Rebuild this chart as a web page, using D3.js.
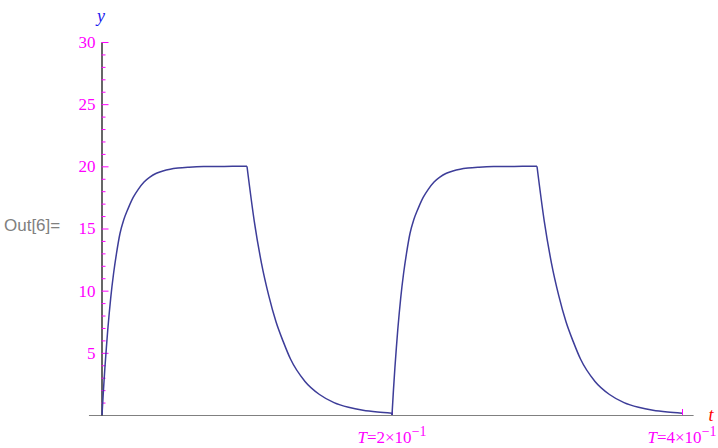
<!DOCTYPE html>
<html>
<head>
<meta charset="utf-8">
<script src="https://cdn.jsdelivr.net/npm/d3@7"></script>
<style>
  body { margin: 0; background: #fff; }
  svg { display: block; }
  .serif { font-family: "Liberation Serif", "Times New Roman", Times, "DejaVu Serif", serif; }
</style>
</head>
<body>
<div id="chart"></div>
<script>
// one period of the signal (t in s, y value)
var periodStarts = [0, 0.2];
var riseT = [0, 0.001, 0.002, 0.003, 0.004, 0.005, 0.006, 0.008, 0.01, 0.0124, 0.015, 0.018, 0.0215,
             0.025, 0.029, 0.033, 0.0375, 0.042, 0.047, 0.0524, 0.06, 0.07, 0.08, 0.09, 0.1];
var riseY = [0, 2.0, 3.8, 5.4, 6.9, 8.2, 9.4, 11.4, 13.0, 14.6, 15.7, 16.6, 17.5,
             18.15, 18.74, 19.13, 19.44, 19.63, 19.77, 19.86, 19.93, 19.98, 19.99, 20, 20];
var fallT = [0.1, 0.105, 0.11, 0.115, 0.12, 0.125, 0.13, 0.14, 0.15, 0.16, 0.17, 0.18, 0.19, 0.2];
var fallY = [20, 15.6, 12.2, 9.6, 7.5, 5.9, 4.5, 2.7, 1.65, 1.0, 0.62, 0.38, 0.24, 0.15];

var yMajor = [5, 10, 15, 20, 25, 30];
var yMinor = [1, 2, 3, 4, 6, 7, 8, 9, 11, 12, 13, 14, 16, 17, 18, 19, 21, 22, 23, 24, 26, 27, 28, 29];
var xTicks = [0.2, 0.4];
var xTickMantissa = ["2", "4"];

var width = 718, height = 448;
var magenta = "#ff00ff";

var svg = d3.select("#chart")
    .append("svg")
    .attr("width", width)
    .attr("height", height);

svg.append("rect").attr("width", width).attr("height", height).attr("fill", "#fff");

var x = d3.scaleLinear().domain([0, 0.4]).range([102, 682]);
var y = d3.scaleLinear().domain([0, 30]).range([415, 42]);

// x axis: grey line, small ticks pointing up
svg.append("line")
    .attr("x1", x(-0.009)).attr("x2", x(0.408))
    .attr("y1", y(0) + 0.5).attr("y2", y(0) + 0.5)
    .attr("stroke", "#808080")
    .attr("stroke-width", 1.2);

svg.selectAll(".xtick").data(xTicks)
    .enter()
    .append("line")
    .attr("x1", d => Math.round(x(d)) + 0.5)
    .attr("x2", d => Math.round(x(d)) + 0.5)
    .attr("y1", y(0))
    .attr("y2", y(0) - 6)
    .attr("stroke", magenta);

var xlab = svg.selectAll(".xlab").data(xTicks)
    .enter()
    .append("text")
    .attr("class", "serif")
    .attr("x", d => x(d))
    .attr("y", 443)
    .attr("text-anchor", "middle")
    .attr("font-size", 17)
    .attr("fill", magenta);
xlab.append("tspan").attr("font-style", "italic").text("T");
xlab.append("tspan").text((d, i) => "=" + xTickMantissa[i] + "\u00d710");
xlab.append("tspan").attr("dy", -7).attr("font-size", 14).text("\u22121");

// y axis
var yAxis = svg.append("g")
    .attr("transform", "translate(101.5,0)")
    .call(d3.axisLeft(y).tickValues(yMajor).tickSizeInner(-7).tickSizeOuter(0).tickPadding(6));
yAxis.select(".domain").attr("stroke", "#000").attr("stroke-width", 1.2);
yAxis.selectAll(".tick line").attr("stroke", magenta);
yAxis.selectAll(".tick text")
    .attr("class", "serif")
    .attr("fill", magenta)
    .attr("font-size", 17);

var yMinorAxis = svg.append("g")
    .attr("transform", "translate(101.5,0)")
    .call(d3.axisLeft(y).tickValues(yMinor).tickSizeInner(-4).tickSizeOuter(0).tickFormat(""));
yMinorAxis.select(".domain").remove();
yMinorAxis.selectAll(".tick line").attr("stroke", magenta);

// axis names
svg.append("text")
    .attr("class", "serif")
    .attr("x", 101).attr("y", 22)
    .attr("text-anchor", "middle")
    .attr("font-style", "italic")
    .attr("font-size", 18)
    .attr("fill", "#1a1aee")
    .text("y");

svg.append("text")
    .attr("class", "serif")
    .attr("x", 711).attr("y", 421)
    .attr("text-anchor", "middle")
    .attr("font-style", "italic")
    .attr("font-size", 18)
    .attr("fill", "#ff0000")
    .text("t");

svg.append("text")
    .attr("x", 4).attr("y", 231)
    .attr("font-family", "Liberation Sans, Arial, sans-serif")
    .attr("font-size", 17)
    .attr("fill", "#808080")
    .text("Out[6]=");

// the curve, one rise and one fall per period
var line = d3.line()
    .x(d => x(d[0]))
    .y(d => y(d[1]))
    .curve(d3.curveMonotoneX);

var segments = [];
periodStarts.forEach(function (p) {
    segments.push(riseT.map((t, i) => [p + t, riseY[i]]));
    segments.push(fallT.map((t, i) => [p + t, fallY[i]]));
});

svg.selectAll(".seg").data(segments)
    .enter()
    .append("path")
    .attr("fill", "none")
    .attr("stroke", "#3d3d99")
    .attr("stroke-width", 1.5)
    .attr("stroke-linejoin", "round")
    .attr("d", line);

// vertical jump back to zero at the period boundary
svg.append("path")
    .attr("fill", "none")
    .attr("stroke", "#3d3d99")
    .attr("stroke-width", 1.5)
    .attr("d", line.curve(d3.curveLinear)([[0.2, fallY[fallY.length - 1]], [0.2, 0]]));
</script>
</body>
</html>
